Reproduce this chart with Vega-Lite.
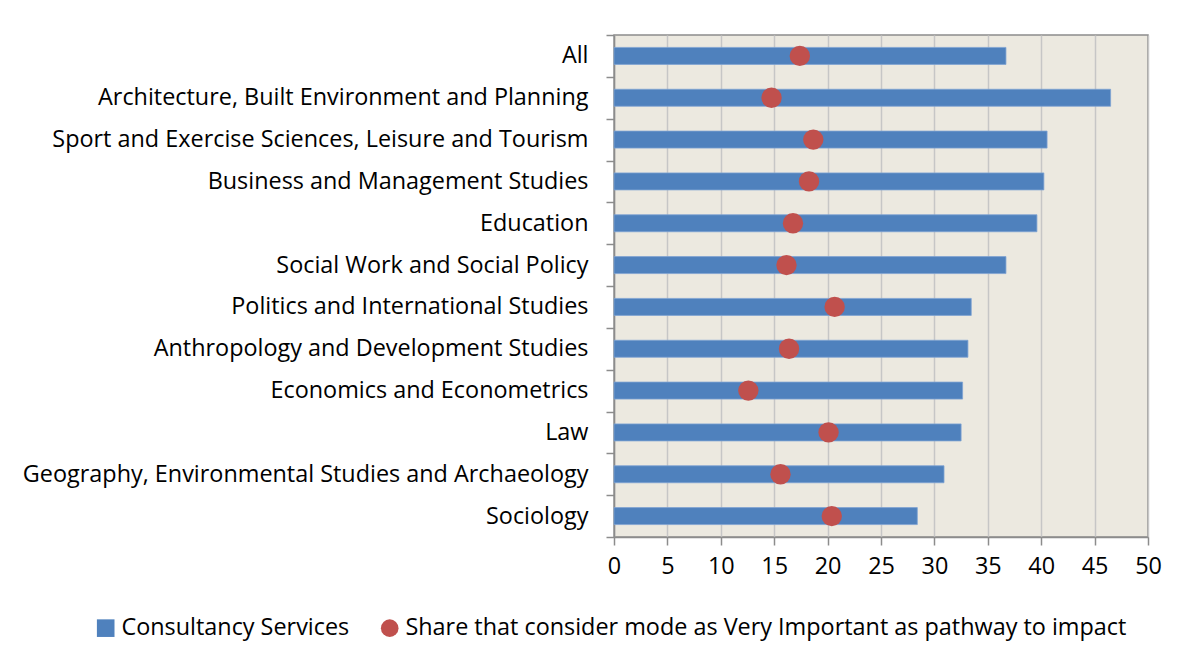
{
  "$schema": "https://vega.github.io/schema/vega-lite/v6.json",
  "autosize": "none",
  "width": 534,
  "height": 502,
  "padding": {"left": 614, "top": 35, "right": 50, "bottom": 124},
  "background": "white",
  "config": {
    "font": "Open Sans",
    "view": {"fill": "#ECE9E0", "stroke": "#8C8C8C", "strokeWidth": 1.5}
  },
  "data": {
    "values": [
      {"category": "All", "consultancy": 36.7, "share": 17.4},
      {"category": "Architecture, Built Environment and Planning", "consultancy": 46.5, "share": 14.75},
      {"category": "Sport and Exercise Sciences, Leisure and Tourism", "consultancy": 40.55, "share": 18.66},
      {"category": "Business and Management Studies", "consultancy": 40.25, "share": 18.26},
      {"category": "Education", "consultancy": 39.6, "share": 16.76},
      {"category": "Social Work and Social Policy", "consultancy": 36.7, "share": 16.15},
      {"category": "Politics and International Studies", "consultancy": 33.45, "share": 20.66},
      {"category": "Anthropology and Development Studies", "consultancy": 33.14, "share": 16.39},
      {"category": "Economics and Econometrics", "consultancy": 32.64, "share": 12.58},
      {"category": "Law", "consultancy": 32.5, "share": 20.09},
      {"category": "Geography, Environmental Studies and Archaeology", "consultancy": 30.9, "share": 15.59},
      {"category": "Sociology", "consultancy": 28.4, "share": 20.39}
    ]
  },
  "encoding": {
    "y": {
      "field": "category",
      "type": "nominal",
      "sort": null,
      "scale": {"paddingInner": 0, "paddingOuter": 0},
      "axis": {
        "title": null,
        "tickBand": "extent",
        "tickSize": 8,
        "tickColor": "#8C8C8C",
        "tickWidth": 1.5,
        "domainColor": "#8C8C8C",
        "domainWidth": 1.5,
        "labelFontSize": 23.4,
        "labelColor": "#000000",
        "labelPadding": 18,
        "labelLimit": 0
      }
    }
  },
  "layer": [
    {
      "mark": {"type": "bar", "size": 17, "stroke": "#7FA3D3", "strokeWidth": 0.8},
      "encoding": {
        "x": {
          "field": "consultancy",
          "type": "quantitative",
          "scale": {"domain": [0, 50], "nice": false},
          "axis": {
            "title": null,
            "values": [0, 5, 10, 15, 20, 25, 30, 35, 40, 45, 50],
            "grid": true,
            "gridColor": "#C6C6C6",
            "gridWidth": 1.5,
            "tickSize": 8,
            "tickColor": "#8C8C8C",
            "tickWidth": 1.5,
            "domainColor": "#8C8C8C",
            "domainWidth": 1.5,
            "labelFontSize": 23.4,
            "labelColor": "#000000",
            "labelPadding": 10,
            "labelFlush": false
          }
        },
        "color": {
          "datum": "Consultancy Services",
          "scale": {
            "domain": ["Consultancy Services", "Share that consider mode as Very Important as pathway to impact"],
            "range": ["#4F81BD", "#C0504D"]
          },
          "legend": {
            "title": null,
            "orient": "none",
            "direction": "horizontal",
            "legendX": -520,
            "legendY": 581,
            "labelFontSize": 23.4,
            "labelColor": "#000000",
            "symbolSize": 310,
            "symbolStrokeWidth": 0,
            "symbolOpacity": 1,
            "columnPadding": 28,
            "labelOffset": 4,
            "labelLimit": 0
          }
        }
      }
    },
    {
      "mark": {"type": "point", "filled": true, "opacity": 1, "size": 415},
      "encoding": {
        "x": {"field": "share", "type": "quantitative"},
        "color": {"datum": "Share that consider mode as Very Important as pathway to impact"},
        "shape": {
          "datum": "Share that consider mode as Very Important as pathway to impact",
          "scale": {
            "domain": ["Consultancy Services", "Share that consider mode as Very Important as pathway to impact"],
            "range": ["square", "circle"]
          },
          "legend": {
            "title": null,
            "orient": "none",
            "direction": "horizontal",
            "legendX": -520,
            "legendY": 581,
            "labelFontSize": 23.4,
            "labelColor": "#000000",
            "symbolSize": 310,
            "symbolStrokeWidth": 0,
            "symbolOpacity": 1,
            "columnPadding": 28,
            "labelOffset": 4,
            "labelLimit": 0
          }
        }
      }
    }
  ]
}
